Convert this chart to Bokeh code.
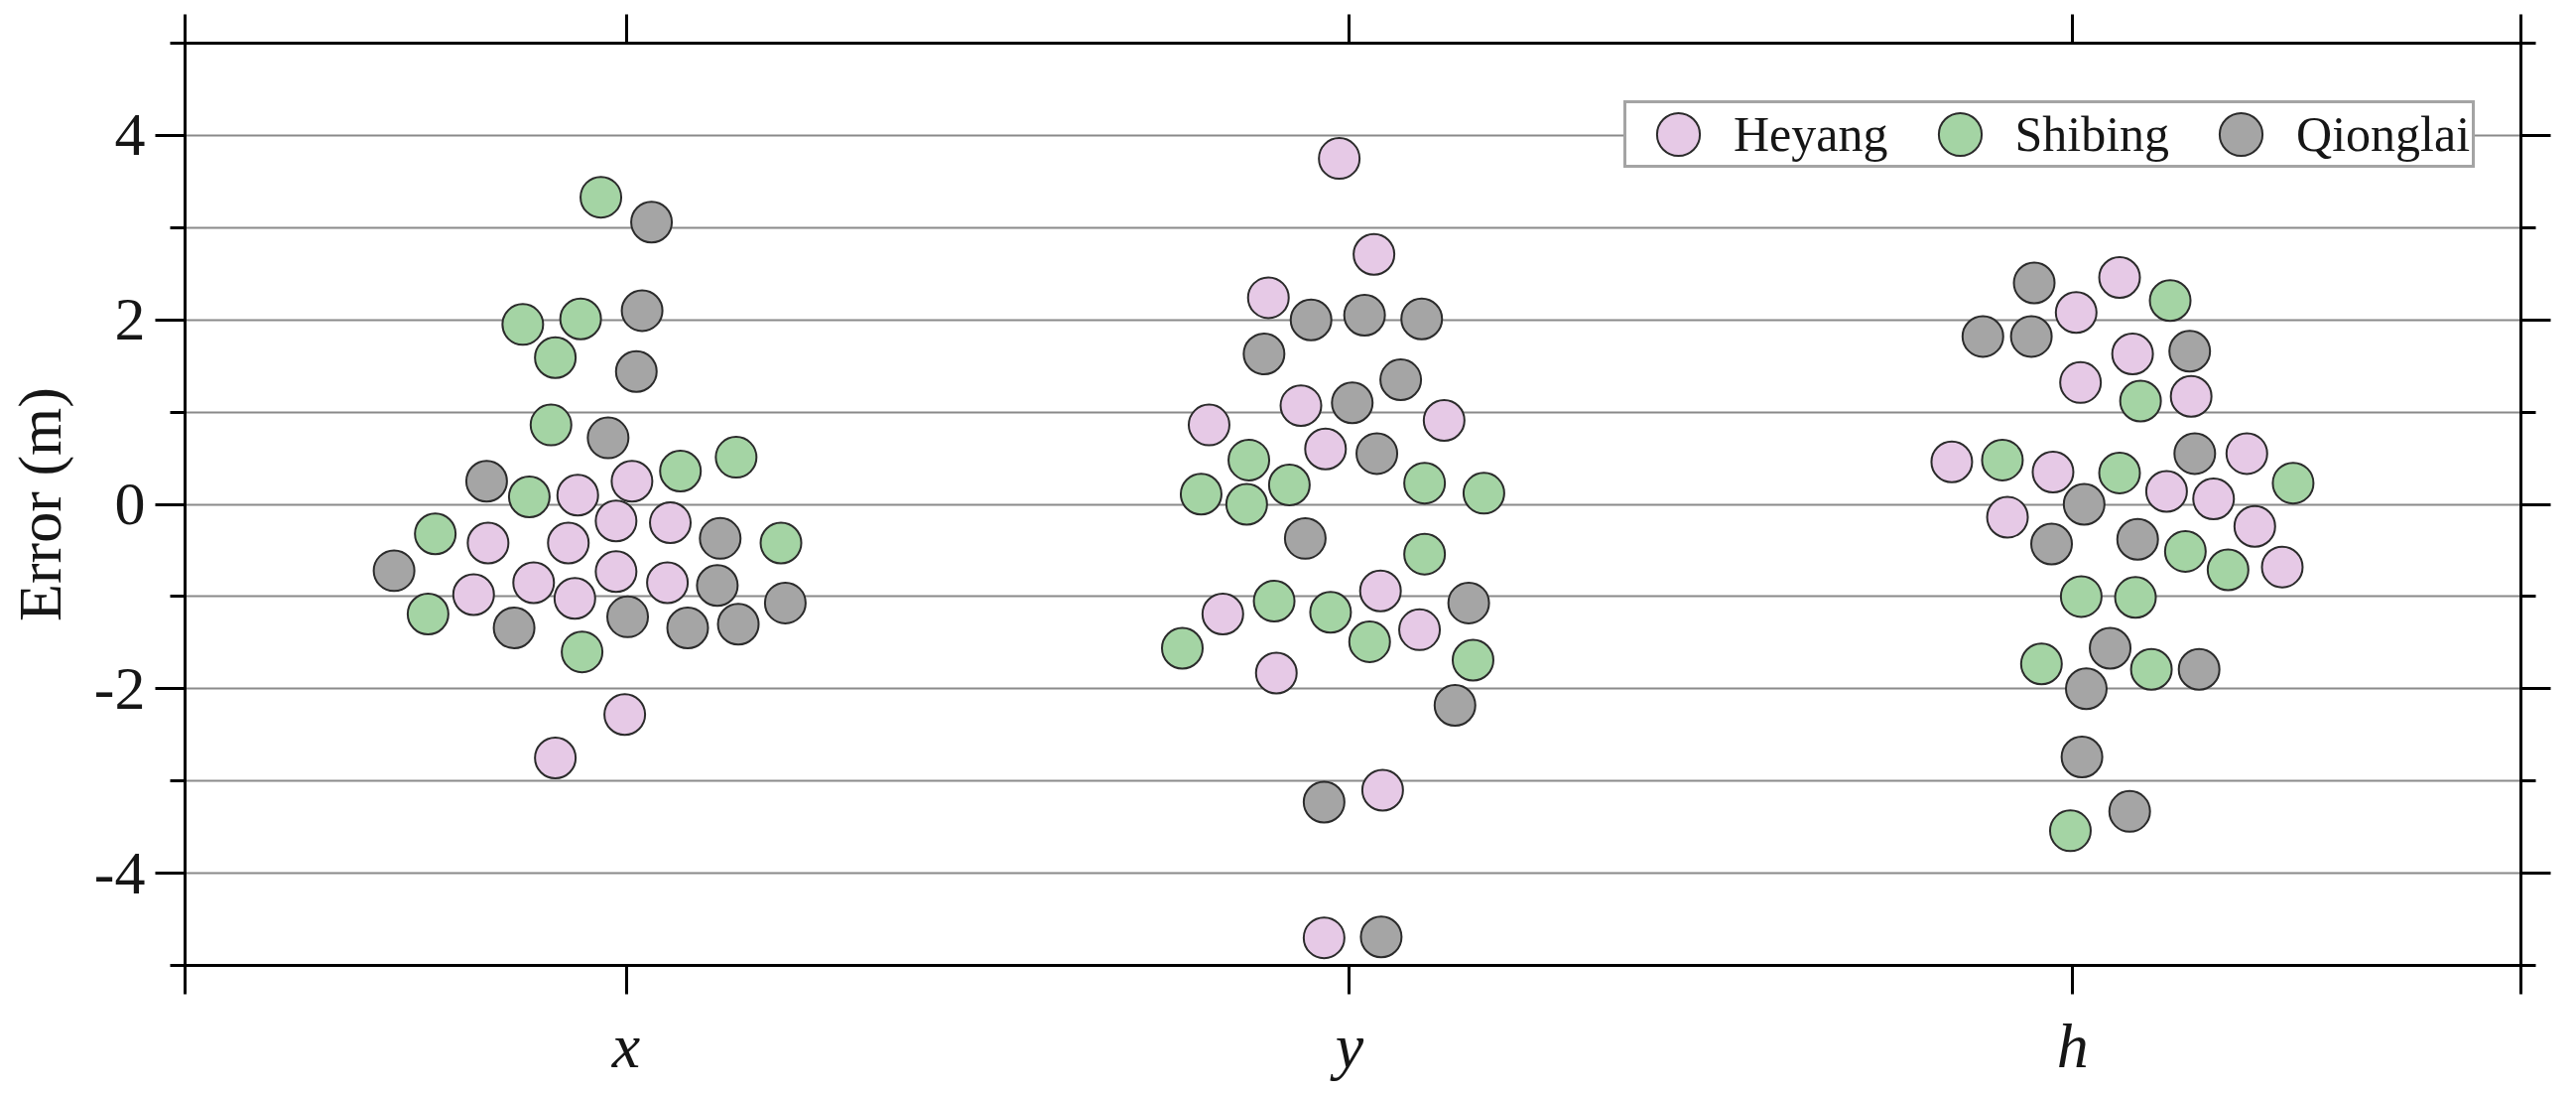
from bokeh.plotting import figure
from bokeh.models import Range1d, FixedTicker, LinearAxis, Legend, LegendItem
from bokeh.embed import file_html
from bokeh.resources import INLINE

# ---- data ----
categories = ["x", "y", "h"]
cat_pos = [1, 2, 3]
series_names = ["Heyang", "Shibing", "Qionglai"]
series_colors = ["#e6c9e6", "#a4d4a4", "#a5a5a5"]

# Heyang
heyang_x_err = [0.10, 0.25, -0.42, -0.42, -0.18, -0.20, -0.98, -0.85, -1.02, -0.73, -0.85, -2.28, -2.75]
heyang_x_off = [-0.067, 0.008, -0.191, -0.080, -0.014, 0.061, -0.211, -0.128, -0.071, -0.014, 0.057, -0.002, -0.098]
heyang_y_err = [3.75, 2.71, 2.24, 0.86, 1.07, 0.91, 0.60, -0.94, -1.19, -1.36, -1.83, -3.10, -4.70]
heyang_y_off = [-0.014, 0.034, -0.112, -0.194, -0.067, 0.131, -0.033, 0.043, -0.175, 0.097, -0.101, 0.046, -0.035]
heyang_h_err = [2.46, 2.08, 1.63, 1.32, 1.17, 0.46, 0.35, 0.55, 0.14, 0.06, -0.14, -0.24, -0.68]
heyang_h_off = [0.065, 0.005, 0.083, 0.011, 0.164, -0.167, -0.027, 0.241, 0.130, 0.195, -0.090, 0.252, 0.290]

# Shibing
shibing_x_err = [3.33, 1.95, 2.01, 1.59, 0.86, 0.36, 0.51, 0.08, -0.32, -0.42, -1.19, -1.60]
shibing_x_off = [-0.035, -0.143, -0.063, -0.098, -0.104, 0.075, 0.152, -0.134, -0.264, 0.214, -0.274, -0.061]
shibing_y_err = [0.48, 0.21, 0.11, 0.00, 0.23, 0.12, -0.54, -1.05, -1.17, -1.49, -1.56, -1.69]
shibing_y_off = [-0.139, -0.083, -0.205, -0.142, 0.104, 0.186, 0.104, -0.104, -0.026, 0.028, -0.231, 0.171]
shibing_h_err = [2.21, 1.12, 0.48, 0.34, 0.23, -0.51, -0.71, -1.00, -1.01, -1.73, -1.79, -3.54]
shibing_h_off = [0.135, 0.094, -0.097, 0.065, 0.305, 0.156, 0.215, 0.012, 0.087, -0.043, 0.109, -0.003]

# Qionglai
qionglai_x_err = [3.06, 2.10, 1.44, 0.72, 0.25, -0.37, -0.72, -0.88, -1.34, -1.22, -1.34, -1.30, -1.07]
qionglai_x_off = [0.035, 0.022, 0.014, -0.025, -0.193, 0.130, -0.321, 0.126, -0.155, 0.002, 0.085, 0.155, 0.220]
qionglai_y_err = [2.00, 2.05, 2.01, 1.63, 1.35, 1.10, 0.55, -0.37, -1.07, -2.18, -3.23, -4.69]
qionglai_y_off = [-0.053, 0.021, 0.100, -0.118, 0.071, 0.004, 0.038, -0.061, 0.165, 0.146, -0.035, 0.044]
qionglai_h_err = [2.40, 1.82, 1.82, 1.66, 0.55, 0.00, -0.43, -0.38, -1.56, -1.79, -2.00, -2.74, -3.33]
qionglai_h_off = [-0.053, -0.124, -0.057, 0.162, 0.169, 0.016, -0.029, 0.090, 0.052, 0.175, 0.019, 0.013, 0.079]

y_major = [-4, -2, 0, 2, 4]
y_minor = [-5, -3, -1, 1, 3, 5]
y_labels = {-4: "-4", -2: "-2", 0: "0", 2: "2", 4: "4"}
grid_values = [-4, -3, -2, -1, 0, 1, 2, 3, 4]

X0, X1 = 0.39, 3.62
Y0, Y1 = -5, 5

FONT = "Liberation Serif"
TXT = "#161616"

p = figure(frame_width=2354, frame_height=929,
           x_range=Range1d(X0, X1), y_range=Range1d(Y0, Y1),
           output_backend="svg", toolbar_location=None,
           x_axis_location=None, y_axis_location=None,
           min_border_left=186, min_border_right=40,
           min_border_top=43, min_border_bottom=114)
p.background_fill_color = "white"
p.border_fill_color = "white"
p.outline_line_color = "black"
p.outline_line_width = 3

# grid
p.xgrid.visible = False
p.ygrid.ticker = FixedTicker(ticks=grid_values)
p.ygrid.grid_line_color = "#8a8a8a"
p.ygrid.grid_line_width = 2


def style_axis(ax):
    ax.axis_line_color = "black"
    ax.axis_line_width = 3
    ax.major_tick_line_color = "black"
    ax.major_tick_line_width = 3
    ax.minor_tick_line_color = "black"
    ax.minor_tick_line_width = 3
    ax.major_tick_in = 0
    ax.minor_tick_in = 0
    ax.major_label_text_font = FONT
    ax.major_label_text_color = TXT
    ax.axis_label_text_font = FONT
    ax.axis_label_text_color = TXT


left = LinearAxis(ticker=FixedTicker(ticks=y_major, minor_ticks=y_minor),
                  major_label_overrides=y_labels)
style_axis(left)
left.major_tick_out = 30
left.minor_tick_out = 15
left.major_label_text_font_size = "62px"
left.major_label_standoff = 10
left.axis_label = "Error (m)"
left.axis_label_text_font_size = "62px"
left.axis_label_text_font_style = "normal"
left.axis_label_standoff = 18
p.add_layout(left, "left")

right = LinearAxis(ticker=FixedTicker(ticks=y_major, minor_ticks=y_minor),
                   major_label_overrides={v: "" for v in y_major})
style_axis(right)
right.major_tick_out = 30
right.minor_tick_out = 15
right.major_label_text_font_size = "1px"
right.major_label_standoff = 0
p.add_layout(right, "right")

x_ticks = [X0 + 0.0001] + cat_pos + [X1 - 0.0001]
bottom_labels = {c: n for c, n in zip(cat_pos, categories)}
bottom_labels[x_ticks[0]] = ""
bottom_labels[x_ticks[-1]] = ""
bottom = LinearAxis(ticker=FixedTicker(ticks=x_ticks), major_label_overrides=bottom_labels)
style_axis(bottom)
bottom.major_tick_out = 29
bottom.major_label_text_font_size = "64px"
bottom.major_label_text_font_style = "italic"
bottom.major_label_standoff = 16
p.add_layout(bottom, "below")

top = LinearAxis(ticker=FixedTicker(ticks=x_ticks),
                 major_label_overrides={t: "" for t in x_ticks})
style_axis(top)
top.major_tick_out = 29
top.major_label_text_font_size = "1px"
top.major_label_standoff = 0
p.add_layout(top, "above")

series_data = [
    (heyang_x_err, heyang_x_off, heyang_y_err, heyang_y_off, heyang_h_err, heyang_h_off),
    (shibing_x_err, shibing_x_off, shibing_y_err, shibing_y_off, shibing_h_err, shibing_h_off),
    (qionglai_x_err, qionglai_x_off, qionglai_y_err, qionglai_y_off, qionglai_h_err, qionglai_h_off),
]

items = []
for name, color, d in zip(series_names, series_colors, series_data):
    xs, ys = [], []
    for pos, err, off in zip(cat_pos, (d[0], d[2], d[4]), (d[1], d[3], d[5])):
        xs += [pos + o for o in off]
        ys += list(err)
    r = p.ellipse(x=xs, y=ys, width=41, height=41,
                  width_units="screen", height_units="screen",
                  fill_color=color, line_color="#2b2b2b", line_width=2)
    items.append(LegendItem(label=name, renderers=[r]))

legend = Legend(items=items, orientation="horizontal", location=(1450, 803))
legend.label_text_font = FONT
legend.label_text_font_size = "50px"
legend.label_text_color = TXT
legend.glyph_width = 100
legend.glyph_height = 54
legend.label_height = 54
legend.label_standoff = 6
legend.spacing = 22
legend.padding = 2
legend.margin = 0
legend.border_line_color = "#4a4a4a"
legend.border_line_width = 3
legend.background_fill_color = "white"
legend.background_fill_alpha = 1
p.add_layout(legend, "center")

open("out.html", "w").write(file_html(p, INLINE))
